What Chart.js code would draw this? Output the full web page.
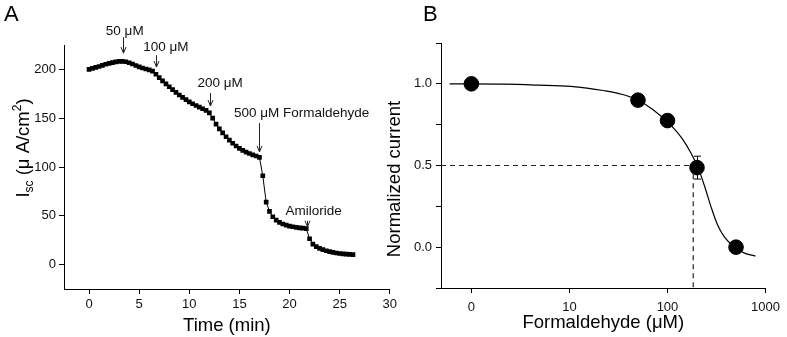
<!DOCTYPE html>
<html>
<head>
<meta charset="utf-8">
<script src="https://cdn.jsdelivr.net/npm/chart.js@4.4.0/dist/chart.umd.min.js"></script>
<style>
  body { margin: 0; background: #fff; }
  #wrap { position: relative; width: 787px; height: 337px; }
  .box { position: absolute; top: 0; height: 337px; }
  #boxA { left: 0; width: 400px; }
  #boxB { left: 380px; width: 407px; }
</style>
</head>
<body>
<div id="wrap">
  <div class="box" id="boxA"><canvas id="chartA" width="400" height="337"></canvas></div>
  <div class="box" id="boxB"><canvas id="chartB" width="407" height="337"></canvas></div>
</div>
<script>
const FONT = '"Liberation Sans", Arial, sans-serif';

// ---- Panel A: Isc trace, one reading every 20 s ----
const timeMin = [0, 0.33, 0.67, 1, 1.33, 1.67, 2, 2.33, 2.67, 3, 3.33, 3.67, 4, 4.33, 4.67, 5, 5.33, 5.67,
  6, 6.33, 6.67, 7, 7.33, 7.67, 8, 8.33, 8.67, 9, 9.33, 9.67, 10, 10.33, 10.67, 11, 11.33, 11.67,
  12, 12.33, 12.67, 13, 13.33, 13.67, 14, 14.33, 14.67, 15, 15.33, 15.67, 16, 16.33, 16.67, 17,
  17.33, 17.67, 18, 18.33, 18.67, 19, 19.33, 19.67, 20, 20.33, 20.67, 21, 21.33, 21.67,
  22, 22.33, 22.67, 23, 23.33, 23.67, 24, 24.33, 24.67, 25, 25.33, 25.67, 26, 26.33];
const iscValues = [200, 201, 202, 203, 204.2, 205.3, 206.2, 207, 207.7, 208.2, 208.3, 207.8, 206.8, 205.5, 204, 202.6, 201.4, 200.4,
  199.5, 198.3, 195, 191.5, 188.3, 185.2, 182.2, 179.3, 176.5, 173.8, 171.3, 169, 166.8, 164.8, 163, 161.3, 159.7, 158,
  155.5, 150, 144, 139, 135, 131, 127.5, 124.3, 121.5, 119, 117, 115.3, 113.8, 112.5, 111.3, 109.8,
  91, 64, 54.5, 49, 45.5, 43.2, 41.6, 40.4, 39.5, 38.8, 38.2, 37.7, 37.3, 36.8,
  26.5, 21, 18.5, 16.7, 15.3, 14.2, 13.3, 12.5, 11.9, 11.4, 11, 10.7, 10.5, 10.3];
const xTicksA = [0, 5, 10, 15, 20, 25, 30];
const yTicksA = [0, 50, 100, 150, 200];

// additions marked with arrows (time in min, levels in uA/cm2)
const addLabels = ['50 μM', '100 μM', '200 μM', '500 μM Formaldehyde', 'Amiloride'];
const addTimes = [3.37, 6.63, 12.05, 17.0, 21.75];
const labelTimes = [3.56, 7.67, 13.07, 21.2, 22.4];
const labelLevels = [239, 222.8, 186, 155.3, 54.2];
const arrowTops = [233, 214.6, 175.8, 145, 45];
const arrowTips = [216.7, 202.4, 162.5, 115.5, 38.8];

// ---- Panel B: dose response ----
const doseTicks = [1, 10, 100, 1000];       // the "0" dose sits at 1 on the log axis
const doseTickLabels = ['0', '10', '100', '1000'];
const doseX = [1, 50, 100, 200, 500];
const normCurrent = [1.0, 0.90, 0.775, 0.487, 0.0];
const normErr = [0, 0.01, 0.03, 0.07, 0.01];
const fitX = [0.6, 2.2, 4.8, 10.3, 15.1, 22.2, 32.6, 47.9, 70.2, 103, 140, 174, 203, 240, 278, 322, 380, 479, 603, 790];
const fitY = [1.0, 0.998, 0.992, 0.984, 0.974, 0.959, 0.939, 0.906, 0.845, 0.759, 0.667, 0.575, 0.493, 0.370, 0.247, 0.141, 0.063, 0.002, -0.035, -0.055];
const ic50 = 183;
const halfLevel = 0.5;
const yTicksB = [-0.25, 0, 0.25, 0.5, 0.75, 1.0, 1.25];

const xMinB = 0.49, yMinB = -0.25;

function axisBase() {
  return {
    grid: { display: true, drawOnChartArea: false, drawTicks: true, tickLength: 5, color: '#000' },
    border: { display: true, color: '#000', width: 1 },
    ticks: { color: '#111', font: { family: FONT, size: 13 }, autoSkip: false, maxRotation: 0 }
  };
}

function drawLetter(ctx, letter, x, y) {
  ctx.save();
  ctx.fillStyle = '#000';
  ctx.font = '22px ' + FONT;
  ctx.textBaseline = 'top';
  ctx.fillText(letter, x, y);
  ctx.restore();
}

const panelAExtras = {
  id: 'panelAExtras',
  afterDraw(chart) {
    const ctx = chart.ctx;
    const xs = chart.scales.x, ys = chart.scales.y;
    drawLetter(ctx, 'A', 4, 4);

    // arrows and labels for each addition
    ctx.save();
    ctx.strokeStyle = '#222';
    ctx.fillStyle = '#111';
    ctx.lineWidth = 1;
    ctx.font = '13.5px ' + FONT;
    ctx.textAlign = 'center';
    ctx.textBaseline = 'middle';
    addLabels.forEach((lab, i) => {
      const x = Math.round(xs.getPixelForValue(addTimes[i])) + 0.5;
      const y1 = ys.getPixelForValue(arrowTops[i]);
      const y2 = ys.getPixelForValue(arrowTips[i]);
      ctx.beginPath();
      ctx.moveTo(x, y1);
      ctx.lineTo(x, y2);
      ctx.moveTo(x - 2.5, y2 - 6);
      ctx.lineTo(x, y2);
      ctx.lineTo(x + 2.5, y2 - 6);
      ctx.stroke();
      ctx.fillText(lab, xs.getPixelForValue(labelTimes[i]), ys.getPixelForValue(labelLevels[i]));
    });
    ctx.restore();

    // y title with subscript / superscript
    const parts = [
      { t: 'I', size: 18.5, dy: 0 },
      { t: 'sc', size: 12, dy: 4 },
      { t: ' (μ A/cm', size: 18.5, dy: 0 },
      { t: '2', size: 12, dy: -8 },
      { t: ')', size: 18.5, dy: 0 }
    ];
    ctx.save();
    ctx.fillStyle = '#000';
    ctx.textBaseline = 'alphabetic';
    let total = 0;
    parts.forEach(p => { ctx.font = p.size + 'px ' + FONT; p.w = ctx.measureText(p.t).width; total += p.w; });
    ctx.translate(22, 148);
    ctx.rotate(-Math.PI / 2);
    let cx = -total / 2;
    parts.forEach(p => {
      ctx.font = p.size + 'px ' + FONT;
      ctx.fillText(p.t, cx, 6.5 + p.dy);
      cx += p.w;
    });
    ctx.restore();
  }
};

const panelBExtras = {
  id: 'panelBExtras',
  afterDatasetsDraw(chart) {
    const ctx = chart.ctx;
    const xs = chart.scales.x, ys = chart.scales.y;
    ctx.save();
    ctx.strokeStyle = '#000';
    ctx.lineWidth = 1;
    doseX.forEach((d, i) => {
      if (!normErr[i]) return;
      const x = Math.round(xs.getPixelForValue(d)) + 0.5;
      const yTop = ys.getPixelForValue(normCurrent[i] + normErr[i]);
      const yBot = ys.getPixelForValue(normCurrent[i] - normErr[i]);
      ctx.beginPath();
      ctx.moveTo(x, yTop); ctx.lineTo(x, yBot);
      ctx.moveTo(x - 3.5, yTop); ctx.lineTo(x + 3.5, yTop);
      ctx.moveTo(x - 3.5, yBot); ctx.lineTo(x + 3.5, yBot);
      ctx.stroke();
    });
    ctx.restore();
  },
  afterDraw(chart) {
    const ctx = chart.ctx;
    drawLetter(ctx, 'B', 43, 4);
    ctx.save();
    ctx.fillStyle = '#000';
    ctx.font = '18.5px ' + FONT;
    ctx.textAlign = 'center';
    ctx.textBaseline = 'middle';
    ctx.translate(15, 179);
    ctx.rotate(-Math.PI / 2);
    ctx.fillText('Normalized current', 0, 0);
    ctx.restore();
  }
};

// ---- Chart A ----
const axAx = axisBase();
const axAy = axisBase();
new Chart(document.getElementById('chartA'), {
  type: 'line',
  data: {
    datasets: [{
      data: timeMin.map((t, i) => ({ x: t, y: iscValues[i] })),
      borderColor: '#000',
      borderWidth: 1,
      backgroundColor: '#000',
      pointStyle: 'rect',
      pointRadius: 3.3,
      pointBorderWidth: 0,
      pointBackgroundColor: '#000',
      tension: 0
    }]
  },
  options: {
    responsive: false,
    animation: false,
    layout: { padding: { left: 0, top: 45, right: 7, bottom: 0 } },
    plugins: { legend: { display: false }, tooltip: { enabled: false } },
    scales: {
      x: Object.assign(axAx, {
        type: 'linear', min: -2.5, max: 30,
        afterBuildTicks: s => { s.ticks = xTicksA.map(v => ({ value: v })); },
        afterFit: s => { s.height = 48; },
        title: { display: true, text: 'Time (min)', color: '#000', font: { family: FONT, size: 18.5 }, padding: { top: 0, bottom: 0 } }
      }),
      y: Object.assign(axAy, {
        type: 'linear', min: -25, max: 225,
        afterBuildTicks: s => { s.ticks = yTicksA.map(v => ({ value: v })); },
        afterFit: s => { s.width = 64; }
      })
    }
  },
  plugins: [panelAExtras]
});
axAx.ticks.padding = 4;
axAy.ticks.padding = 4;

// ---- Chart B ----
const bx = axisBase();
const by = axisBase();
bx.ticks.padding = 7;
bx.ticks.callback = (v, i) => doseTickLabels[i];
by.ticks.padding = 4;
by.ticks.callback = v => (Math.abs(v * 2 - Math.round(v * 2)) < 1e-6 ? v.toFixed(1) : '');

new Chart(document.getElementById('chartB'), {
  type: 'scatter',
  data: {
    datasets: [
      {
        data: doseX.map((d, i) => ({ x: d, y: normCurrent[i] })),
        showLine: false,
        pointRadius: 7.3,
        pointBorderWidth: 1,
        pointBackgroundColor: '#000',
        pointBorderColor: '#000'
      },
      {
        data: fitX.map((d, i) => ({ x: d, y: fitY[i] })),
        showLine: true,
        borderColor: '#000',
        borderWidth: 1.2,
        pointRadius: 0,
        cubicInterpolationMode: 'monotone'
      },
      {
        data: [{ x: xMinB, y: halfLevel }, { x: ic50, y: halfLevel }, { x: ic50, y: yMinB }],
        showLine: true,
        borderColor: '#222',
        borderWidth: 1.2,
        borderDash: [5, 4],
        pointRadius: 0,
        tension: 0
      }
    ]
  },
  options: {
    responsive: false,
    animation: false,
    layout: { padding: { left: 0, top: 43, right: 17, bottom: 0 } },
    plugins: { legend: { display: false }, tooltip: { enabled: false } },
    scales: {
      x: Object.assign(bx, {
        type: 'logarithmic', min: xMinB, max: 1000,
        afterBuildTicks: s => { s.ticks = doseTicks.map(v => ({ value: v })); },
        afterFit: s => { s.height = 49; },
        title: { display: true, text: 'Formaldehyde (μM)', color: '#000', font: { family: FONT, size: 18.5 }, padding: { top: 0, bottom: 3 } }
      }),
      y: Object.assign(by, {
        type: 'linear', min: yMinB, max: 1.25,
        afterBuildTicks: s => { s.ticks = yTicksB.map(v => ({ value: v })); },
        afterFit: s => { s.width = 61; }
      })
    }
  },
  plugins: [panelBExtras]
});
</script>
</body>
</html>
